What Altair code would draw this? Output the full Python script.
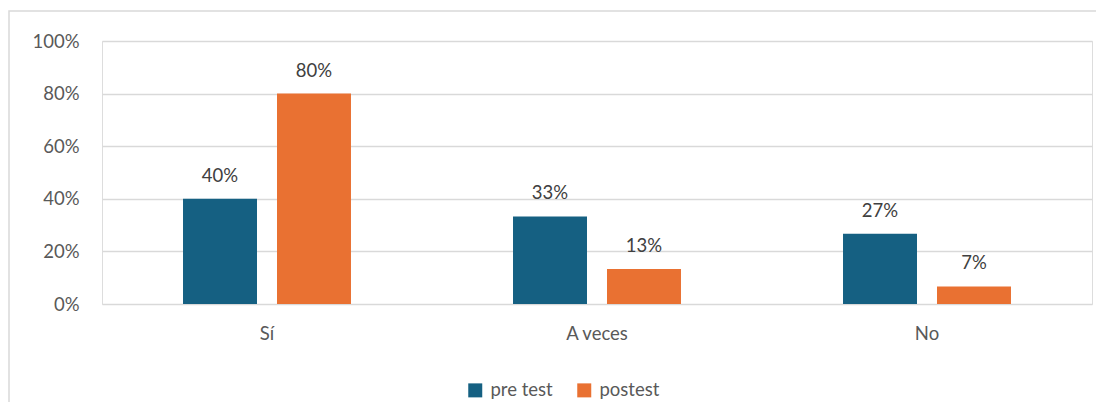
import altair as alt
import pandas as pd

categories = ["Sí", "A veces", "No"]
series = ["pre test", "postest"]
pre_test = [0.40, 0.333, 0.267]
postest = [0.80, 0.133, 0.067]
colors = ["#156082", "#E97132"]
y_ticks = [0, 0.2, 0.4, 0.6, 0.8, 1.0]

rows = []
for c, a, b in zip(categories, pre_test, postest):
    rows.append({"cat": c, "serie": series[0], "val": a})
    rows.append({"cat": c, "serie": series[1], "val": b})
df = pd.DataFrame(rows)

FONT = "Lato"
TXT = "#595959"

x_enc = alt.X("cat:N", sort=categories, title=None,
              scale=alt.Scale(paddingInner=0.491, paddingOuter=0.2455),
              axis=alt.Axis(labelAngle=0, ticks=False, domain=False, labelPadding=20,
                            labelFont=FONT, labelFontSize=18.5, labelColor=TXT))
xo_enc = alt.XOffset("serie:N", sort=series,
                     scale=alt.Scale(paddingInner=0.2128, paddingOuter=0))
y_enc = alt.Y("val:Q", title=None,
              scale=alt.Scale(domain=[0, 1]),
              axis=alt.Axis(values=y_ticks, format=".0%", ticks=False, domain=False,
                            labelPadding=23, labelFont=FONT, labelFontSize=18.5,
                            labelColor=TXT, gridColor="#d9d9d9", gridWidth=1.3))
color_enc = alt.Color("serie:N", sort=series,
                      scale=alt.Scale(domain=series, range=colors),
                      legend=alt.Legend(title=None, orient="none", direction="horizontal",
                                        legendX=364, legendY=340, symbolType="square",
                                        symbolSize=196, symbolStrokeWidth=0,
                                        labelFont=FONT, labelFontSize=18.5, labelColor=TXT,
                                        labelOffset=6, columnPadding=22))

base = alt.Chart(df)
bars = base.mark_bar().encode(x=x_enc, xOffset=xo_enc, y=y_enc, color=color_enc)
labels = base.mark_text(dy=-17, baseline="alphabetic", font=FONT, fontSize=18.5,
                        color="#404040").encode(
    x=alt.X("cat:N", sort=categories), xOffset=alt.XOffset("serie:N", sort=series),
    y="val:Q", text=alt.Text("val:Q", format=".0%"))

border = alt.Chart(pd.DataFrame({"k": [0]})).mark_rect(
    fill=None, stroke="#d9d9d9", strokeWidth=1.5, clip=False).encode(
    x=alt.value(-93), x2=alt.value(1200), y=alt.value(-30), y2=alt.value(600))

chart = alt.layer(border, bars, labels).properties(
    width=990, height=263,
    padding={"left": 94, "top": 33, "right": 4, "bottom": 98},
    autosize=alt.AutoSizeParams(type="none"),
).configure_view(stroke=None).configure(background="white")

chart.save("out.html", embed_options={"renderer": "svg", "actions": False})
